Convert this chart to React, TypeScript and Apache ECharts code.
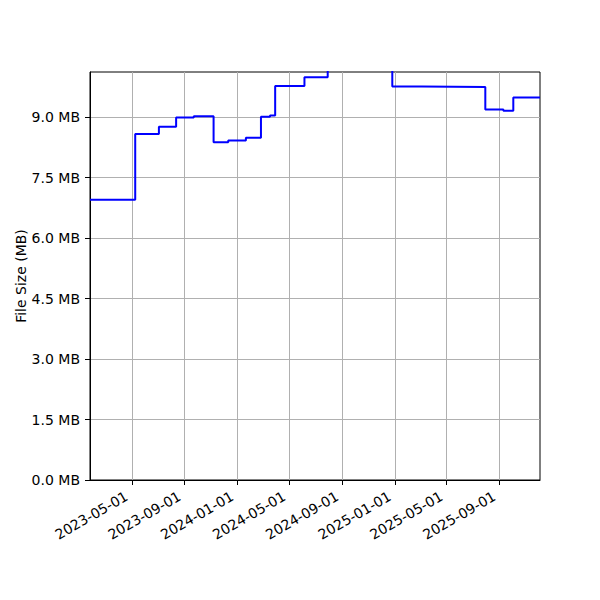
import React, { useEffect, useRef } from "react";
import * as echarts from "echarts";

const changeDates = [
  "2023-01-24", "2023-05-09", "2023-07-03", "2023-08-12", "2023-09-22",
  "2023-11-07", "2023-12-11", "2024-01-21", "2024-02-25", "2024-03-17",
  "2024-03-29", "2024-06-05", "2024-07-29", "2024-12-26", "2025-03-04",
  "2025-07-30", "2025-09-10", "2025-10-03", "2025-12-04",
];
const sizesMB = [
  6.95, 8.58, 8.76, 8.99, 9.02,
  8.38, 8.42, 8.49, 9.01, 9.04,
  9.77, 9.99, 10.4, 9.76, 9.75,
  9.19, 9.16, 9.49, 9.49,
];
const xTickDates = [
  "2023-05-01", "2023-09-01", "2024-01-01", "2024-05-01",
  "2024-09-01", "2025-01-01", "2025-05-01", "2025-09-01",
];
const yTicks = [0, 1.5, 3.0, 4.5, 6.0, 7.5, 9.0];
const xMin = "2023-01-24";
const xMax = "2025-12-04";
const yMax = 10.12;

const ts = (d: string) => Date.parse(d + "T00:00:00Z");
const pad = (n: number) => (n < 10 ? "0" + n : "" + n);
const fmtDate = (v: number) => {
  const d = new Date(v);
  return `${d.getUTCFullYear()}-${pad(d.getUTCMonth() + 1)}-${pad(d.getUTCDate())}`;
};

export default function App() {
  const ref = useRef<HTMLDivElement>(null);
  useEffect(() => {
    if (!ref.current) return;
    const chart = echarts.init(ref.current, null, { renderer: "svg" });
    const font = "DejaVu Sans";
    const xTicks = xTickDates.map(ts);
    chart.setOption({
      animation: false,
      backgroundColor: "#fff",
      textStyle: { fontFamily: font },
      grid: {
        left: 90, right: 60, top: 72, bottom: 120,
        show: true, borderColor: "#000", borderWidth: 1,
        backgroundColor: "transparent",
      },
      xAxis: {
        type: "value",
        min: ts(xMin),
        max: ts(xMax),
        axisLine: { show: true, lineStyle: { color: "#000", width: 1 } },
        axisTick: { show: true, length: 5, inside: false, lineStyle: { color: "#000" }, customValues: xTicks },
        axisLabel: {
          customValues: xTicks,
          rotate: 30,
          margin: 12,
          padding: [0, 6, 0, 0],
          color: "#000",
          fontSize: 14,
          fontFamily: font,
          formatter: (v: number) => fmtDate(v),
        },
        splitLine: { show: true, lineStyle: { color: "#b0b0b0", width: 1 } },
      },
      yAxis: {
        type: "value",
        min: 0,
        max: yMax,
        name: "File Size (MB)",
        nameLocation: "middle",
        nameGap: 62,
        nameMoveOverlap: false,
        nameTextStyle: { color: "#000", fontSize: 14, fontFamily: font },
        axisLine: { show: true, lineStyle: { color: "#000", width: 1 } },
        axisTick: { show: true, length: 5, inside: false, lineStyle: { color: "#000" }, customValues: yTicks },
        axisLabel: {
          customValues: yTicks,
          color: "#000",
          fontSize: 14,
          fontFamily: font,
          margin: 10,
          formatter: (v: number) => `${v.toFixed(1)} MB`,
        },
        splitLine: { show: true, lineStyle: { color: "#b0b0b0", width: 1 } },
      },
      series: [
        {
          type: "line",
          step: "end",
          showSymbol: false,
          clip: true,
          data: changeDates.map((d, i) => [ts(d), sizesMB[i]]),
          lineStyle: { color: "#0000ff", width: 2 },
          itemStyle: { color: "#0000ff" },
        },
      ],
    });
    return () => chart.dispose();
  }, []);
  return <div ref={ref} style={{ width: 600, height: 600, margin: -8 }} />;
}
